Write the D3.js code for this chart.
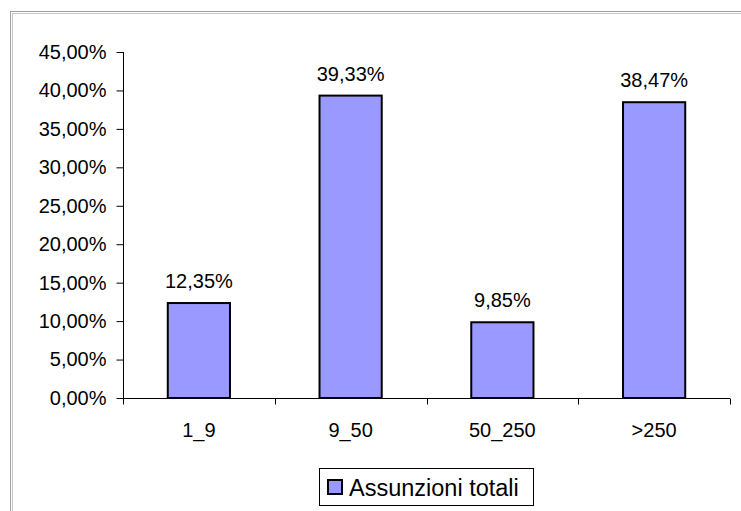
<!DOCTYPE html>
<html>
<head>
<meta charset="utf-8">
<script src="https://cdn.jsdelivr.net/npm/d3@7/dist/d3.min.js"></script>
<style>
  html, body { margin: 0; padding: 0; background: #fff; }
  svg text { font-family: "Liberation Sans", Arial, sans-serif; fill: #000; }
</style>
</head>
<body>
<svg id="chart" width="741" height="511"></svg>
<script>
// Share of total hires by company size class
const categories = ["1_9", "9_50", "50_250", ">250"];
const values = [12.35, 39.33, 9.85, 38.47];
const yTicks = [0, 5, 10, 15, 20, 25, 30, 35, 40, 45];
const seriesName = "Assunzioni totali";

const fmt = v => v.toFixed(2).replace(".", ",") + "%";

const svg = d3.select("#chart");

// outer frame of the chart area
svg.append("rect")
  .attr("x", 10.5).attr("y", 11.5)
  .attr("width", 760).attr("height", 520)
  .attr("fill", "none").attr("stroke", "#a0a0a0").attr("stroke-width", 1);
svg.append("rect")
  .attr("x", 12.5).attr("y", 13.5)
  .attr("width", 760).attr("height", 520)
  .attr("fill", "none").attr("stroke", "#c8c8c8").attr("stroke-width", 1);

const plot = { left: 123, right: 730, top: 52, bottom: 398 };

const x = d3.scaleBand()
  .domain(categories)
  .range([plot.left, plot.right])
  .paddingInner(0.59)
  .paddingOuter(0.295);

const y = d3.scaleLinear()
  .domain([0, 45])
  .range([plot.bottom, plot.top]);

// bars
svg.append("g").selectAll("rect")
  .data(values)
  .join("rect")
  .attr("x", (d, i) => x(categories[i]))
  .attr("y", d => y(d))
  .attr("width", x.bandwidth())
  .attr("height", d => y(0) - y(d))
  .attr("fill", "#9999ff")
  .attr("stroke", "#000")
  .attr("stroke-width", 2);

// value labels above bars
svg.append("g").selectAll("text")
  .data(values)
  .join("text")
  .attr("x", (d, i) => x(categories[i]) + x.bandwidth() / 2)
  .attr("y", d => y(d) - 15)
  .attr("text-anchor", "middle")
  .attr("font-size", 20)
  .text(d => fmt(d));

// y axis
const yAxis = d3.axisLeft(y)
  .tickValues(yTicks)
  .tickSize(7)
  .tickPadding(10)
  .tickFormat(fmt);
const gy = svg.append("g")
  .attr("transform", `translate(${plot.left + 0.5},0)`)
  .call(yAxis);
gy.select(".domain").attr("stroke", "#000").attr("d", `M0,${plot.top}V${plot.bottom}`);
gy.selectAll(".tick line").attr("stroke", "#000");
gy.selectAll(".tick text").attr("font-size", 20).attr("fill", "#000")
  .attr("font-family", "Liberation Sans, Arial, sans-serif");

// x axis: baseline with ticks at category boundaries
const xBase = plot.bottom + 0.5;
svg.append("line")
  .attr("x1", plot.left).attr("x2", plot.right)
  .attr("y1", xBase).attr("y2", xBase)
  .attr("stroke", "#000");
const step = x.step();
const boundaries = d3.range(categories.length + 1).map(i => plot.left + i * step);
svg.append("g").selectAll("line")
  .data(boundaries)
  .join("line")
  .attr("x1", d => Math.round(d) + 0.5).attr("x2", d => Math.round(d) + 0.5)
  .attr("y1", xBase).attr("y2", xBase + 6)
  .attr("stroke", "#000");
svg.append("g").selectAll("text")
  .data(categories)
  .join("text")
  .attr("x", d => x(d) + x.bandwidth() / 2)
  .attr("y", 437)
  .attr("text-anchor", "middle")
  .attr("font-size", 20)
  .text(d => d);

// legend
const lg = svg.append("g").attr("transform", "translate(319,468)");
lg.append("rect")
  .attr("x", 0.5).attr("y", 0.5).attr("width", 214).attr("height", 37)
  .attr("fill", "#fff").attr("stroke", "#000");
lg.append("rect")
  .attr("x", 9).attr("y", 12).attr("width", 14).attr("height", 14)
  .attr("fill", "#9999ff").attr("stroke", "#000").attr("stroke-width", 2);
lg.append("text")
  .attr("x", 30).attr("y", 28)
  .attr("font-size", 23.5)
  .text(seriesName);
</script>
</body>
</html>
